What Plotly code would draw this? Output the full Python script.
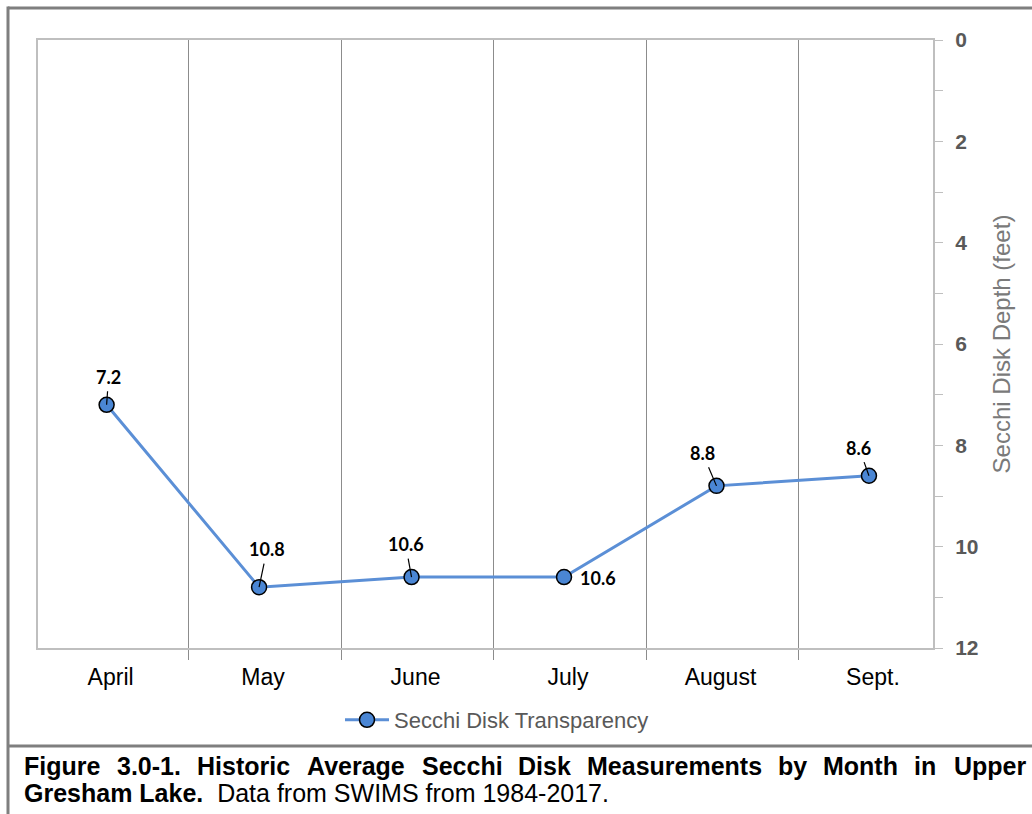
import plotly.graph_objects as go

# Monthly historic average Secchi disk depth (feet)
months = ["April", "May", "June", "July", "August", "Sept."]
depth_ft = [7.2, 10.8, 10.6, 10.6, 8.8, 8.6]
series_name = "Secchi Disk Transparency"
y_ticks = [0, 2, 4, 6, 8, 10, 12]

# per-label offsets (pixels) for the data-label callouts
label_offsets = [(2, -28), (8, -38), (-6, -33), (34, 1), (-14, -33), (-10, -28)]

caption_words = ["Figure", "3.0-1.", "Historic", "Average", "Secchi", "Disk",
                 "Measurements", "by", "Month", "in", "Upper"]
caption_line2_bold = "Gresham Lake."
caption_line2_rest = "  Data from SWIMS from 1984-2017."

W, H = 1032, 814
L, R, T, B = 38, 99, 40, 166
PW, PH = W - L - R, H - T - B


def px(x):
    return (x - L) / PW


def py(y):
    return 1 - (y - T) / PH


x_idx = list(range(len(months)))
LINE = "#5b8fd6"
FILL = "#4a86d4"
GRAY_TXT = "#595959"
TITLE_GRAY = "#7a7a7a"
AXIS_GRAY = "#bfbfbf"
GRID_GRAY = "#8c8c8c"
FRAME = "#7f7f7f"
CAP_SIZE = 25

fig = go.Figure()
fig.add_trace(go.Scatter(
    x=x_idx, y=depth_ft, name=series_name, mode="lines+markers",
    line=dict(color=LINE, width=3),
    marker=dict(size=15, color=FILL, line=dict(color="#000000", width=1.5)),
))

annotations = []
for xi, v, (dx, dy) in zip(x_idx, depth_ft, label_offsets):
    if abs(dx) > 30:
        annotations.append(dict(
            x=xi, y=v, text=f"<b>{v:.1f}</b>", showarrow=False,
            xshift=dx, yshift=-dy,
            font=dict(family="Lato", size=18, color="#000000")))
    else:
        annotations.append(dict(
            x=xi, y=v, text=f"<b>{v:.1f}</b>", showarrow=True,
            ax=dx, ay=dy, arrowhead=0, arrowwidth=1.2, arrowcolor="#000000",
            standoff=0, startstandoff=2,
            font=dict(family="Lato", size=18, color="#000000")))

# justified first caption line, word by word
cap_x = [22, 115, 195, 305, 420, 516, 585, 776, 821, 912, 952]
for word, cx in zip(caption_words, cap_x):
    annotations.append(dict(
        xref="paper", yref="paper", x=px(cx), y=py(766),
        xanchor="left", yanchor="middle", showarrow=False,
        text=f"<b>{word}</b>",
        font=dict(family="Liberation Sans", size=CAP_SIZE, color="#000000")))
annotations.append(dict(
    xref="paper", yref="paper", x=px(22), y=py(793),
    xanchor="left", yanchor="middle", showarrow=False,
    text=f"<b>{caption_line2_bold}</b>{caption_line2_rest.replace(' ', '&nbsp;', 2)}",
    font=dict(family="Liberation Sans", size=CAP_SIZE, color="#000000")))

# outer frame of the figure cell
shapes = [
    dict(type="line", xref="paper", yref="paper", x0=px(8), x1=px(1040),
         y0=py(8), y1=py(8), line=dict(color=FRAME, width=3)),
    dict(type="line", xref="paper", yref="paper", x0=px(8), x1=px(8),
         y0=py(6.5), y1=py(820), line=dict(color=FRAME, width=3)),
    dict(type="line", xref="paper", yref="paper", x0=px(8), x1=px(1040),
         y0=py(746), y1=py(746), line=dict(color=FRAME, width=3)),
]

fig.update_layout(
    width=W, height=H,
    margin=dict(l=L, r=R, t=T, b=B),
    paper_bgcolor="#ffffff", plot_bgcolor="#ffffff",
    font=dict(family="Liberation Sans", color="#000000"),
    showlegend=True,
    legend=dict(orientation="h", x=px(497), xanchor="center",
                y=py(720), yanchor="middle", itemwidth=44,
                font=dict(size=22, color=GRAY_TXT),
                bgcolor="rgba(0,0,0,0)"),
    xaxis=dict(
        range=[-0.45, 5.42], tickmode="array", tickvals=x_idx, ticktext=months,
        ticks="", showgrid=False, zeroline=False,
        showline=True, linecolor=AXIS_GRAY, linewidth=2, mirror=True,
        tickfont=dict(size=23, color="#000000"), ticklabelstandoff=7,
        ticklabelshift=4,
        minor=dict(tick0=0.54, dtick=1, ticks="outside", ticklen=10,
                   tickcolor=GRID_GRAY, tickwidth=1,
                   showgrid=True, gridcolor=GRID_GRAY, gridwidth=1),
    ),
    yaxis=dict(
        side="right", range=[12, 0], tickmode="array", tickvals=y_ticks,
        ticks="outside", ticklen=8, tickcolor=AXIS_GRAY, tickwidth=1,
        showgrid=False, zeroline=False,
        showline=True, linecolor=AXIS_GRAY, linewidth=2, mirror=True,
        tickfont=dict(size=21, color=GRAY_TXT, weight="bold"),
        ticklabelstandoff=8,
        title=dict(text="Secchi Disk Depth (feet)", standoff=16,
                   font=dict(size=24, color=TITLE_GRAY)),
        minor=dict(dtick=1, ticks="outside", ticklen=8, tickcolor=AXIS_GRAY),
    ),
    annotations=annotations,
    shapes=shapes,
)

fig.write_html("out.html")
